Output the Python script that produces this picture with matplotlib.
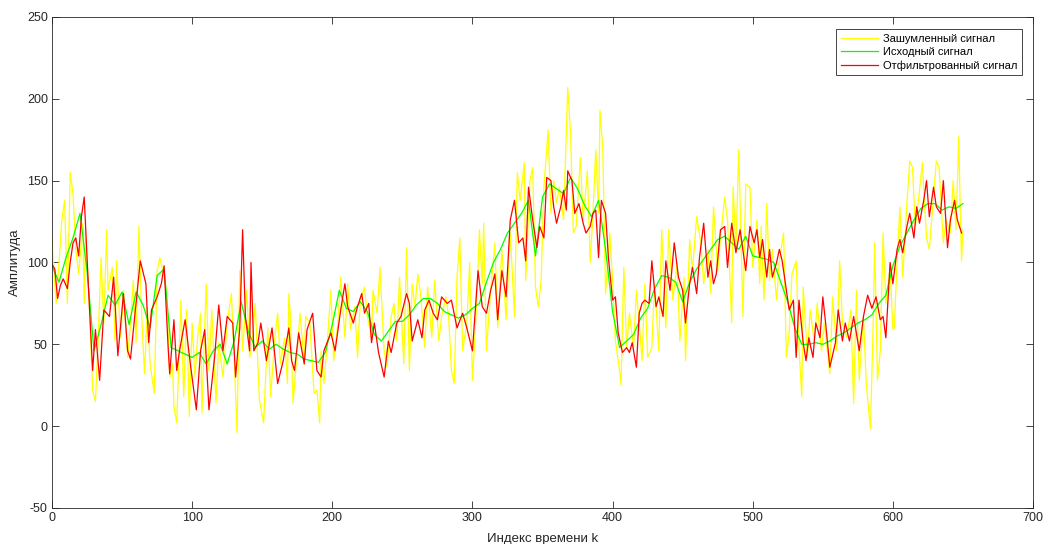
import numpy as np
import matplotlib
matplotlib.use("Agg")
import matplotlib.pyplot as plt
import matplotlib.ticker as ticker

plt.rcParams["font.family"] = ["Liberation Sans", "DejaVu Sans"]
plt.rcParams["axes.unicode_minus"] = False

#  исходный сигнал (отсчёты через 5)
clean_k = list(range(0, 651, 5))
clean_v = [98, 88, 103, 115, 130, 95, 46, 62, 80, 74,
           82, 62, 82, 74, 60, 92, 96, 48, 46, 44,
           42, 45, 38, 46, 50, 38, 52, 76, 58, 48,
           52, 47, 50, 47, 45, 44, 41, 40, 39, 45,
           62, 83, 72, 70, 76, 70, 56, 52, 58, 64,
           64, 68, 74, 78, 78, 75, 70, 68, 66, 68,
           72, 75, 88, 100, 108, 118, 124, 130, 138, 104,
           140, 148, 145, 142, 152, 145, 135, 128, 138, 108,
           70, 48, 52, 56, 66, 72, 84, 92, 91, 88,
           76, 88, 96, 102, 108, 114, 116, 112, 108, 116,
           104, 103, 102, 100, 88, 76, 60, 50, 50, 51,
           50, 52, 55, 57, 60, 63, 65, 68, 75, 80,
           98, 110, 118, 126, 133, 136, 136, 132, 134, 133, 136]

#  отфильтрованный сигнал
filt_k = [0, 2, 4, 6, 8, 11, 13, 15, 17, 19, 21, 23, 26, 29, 31, 34, 37, 41, 44, 47,
          51, 54, 56, 59, 63, 67, 69, 71, 75, 78, 80, 83, 84, 87, 89, 91, 95, 99, 103, 106,
          109, 112, 116, 119, 122, 125, 129, 131, 134, 136, 138, 141, 142, 144, 147, 149, 153, 157, 161, 165,
          169, 171, 173, 176, 180, 182, 186, 189, 192, 194, 199, 202, 206, 209, 211, 215, 218, 221, 223, 226,
          228, 230, 233, 237, 240, 242, 246, 249, 253, 255, 257, 261, 264, 266, 269, 272, 275, 278, 282, 285,
          289, 293, 296, 300, 304, 307, 310, 313, 316, 318, 321, 324, 327, 330, 333, 336, 338, 340, 343, 346,
          348, 351, 353, 356, 358, 360, 363, 365, 367, 368, 371, 373, 376, 379, 381, 384, 386, 388, 390, 392,
          395, 397, 400, 402, 404, 407, 410, 412, 414, 417, 419, 421, 423, 426, 428, 431, 433, 436, 438, 441,
          444, 447, 450, 452, 455, 457, 460, 462, 465, 468, 470, 472, 474, 477, 480, 482, 485, 488, 491, 495,
          498, 501, 503, 505, 507, 510, 512, 514, 517, 519, 521, 524, 526, 529, 531, 533, 536, 538, 540, 543,
          545, 548, 550, 552, 555, 559, 561, 564, 566, 569, 572, 576, 579, 582, 585, 588, 591, 593, 595, 598,
          600, 603, 605, 607, 610, 612, 615, 617, 619, 622, 624, 626, 629, 631, 634, 636, 639, 641, 644, 646, 649]
filt_v = [99, 96, 78, 86, 90, 84, 100, 112, 115, 104, 128, 140, 85, 34, 59, 28, 71, 67, 91, 43,
          81, 46, 41, 67, 101, 87, 51, 71, 79, 87, 98, 46, 32, 65, 34, 46, 65, 36, 10, 46,
          59, 10, 42, 74, 46, 67, 63, 30, 60, 120, 67, 46, 100, 46, 51, 63, 40, 60, 26, 40,
          60, 40, 34, 57, 38, 59, 69, 34, 30, 46, 57, 46, 71, 87, 73, 63, 73, 81, 69, 75,
          51, 63, 45, 30, 52, 45, 63, 67, 81, 75, 52, 65, 54, 71, 77, 69, 65, 79, 75, 77,
          60, 69, 60, 46, 95, 73, 69, 83, 93, 65, 95, 79, 126, 138, 112, 115, 101, 146, 126, 109,
          122, 115, 152, 150, 134, 124, 134, 144, 132, 156, 150, 130, 136, 124, 118, 122, 130, 132, 103, 138,
          130, 103, 77, 79, 57, 45, 48, 45, 51, 36, 69, 75, 77, 75, 101, 73, 79, 67, 101, 83,
          112, 91, 83, 63, 87, 97, 81, 103, 124, 91, 101, 87, 93, 120, 122, 97, 124, 106, 120, 95,
          122, 112, 120, 103, 114, 91, 108, 91, 100, 108, 101, 83, 71, 77, 42, 77, 51, 40, 54, 42,
          63, 54, 79, 63, 36, 51, 71, 52, 63, 52, 67, 46, 67, 80, 72, 79, 65, 67, 54, 100,
          87, 108, 114, 106, 122, 130, 115, 134, 124, 138, 150, 128, 146, 134, 130, 150, 109, 126, 138, 126, 118]

#  зашумленный сигнал
noisy_k = [0, 3, 5, 7, 9, 11, 13, 15, 17, 19, 22, 23, 24, 27, 29, 31, 33, 35, 37, 39,
           40, 43, 45, 46, 49, 51, 54, 56, 58, 60, 62, 64, 66, 68, 70, 73, 75, 77, 80, 82,
           84, 86, 87, 89, 92, 94, 96, 98, 100, 102, 104, 106, 107, 110, 112, 114, 117, 119, 122, 125,
           128, 130, 132, 134, 136, 139, 141, 143, 145, 148, 151, 154, 156, 159, 161, 163, 166, 168, 169, 170,
           172, 175, 177, 180, 181, 184, 187, 189, 191, 192, 194, 196, 199, 201, 204, 206, 209, 211, 213, 216,
           218, 220, 223, 225, 228, 229, 232, 234, 237, 239, 242, 244, 246, 248, 251, 253, 255, 257, 259, 261,
           263, 266, 268, 271, 273, 276, 278, 281, 283, 285, 287, 289, 291, 293, 296, 298, 300, 303, 305, 307,
           308, 310, 313, 316, 318, 321, 324, 327, 330, 332, 334, 337, 338, 341, 343, 345, 347, 349, 351, 354,
           356, 358, 360, 362, 365, 368, 370, 372, 374, 377, 379, 382, 384, 386, 388, 390, 391, 393, 395, 398,
           400, 402, 405, 406, 408, 410, 412, 415, 417, 420, 421, 423, 425, 428, 430, 433, 435, 438, 440, 443,
           446, 448, 451, 452, 455, 457, 460, 463, 465, 468, 470, 472, 475, 477, 480, 482, 485, 486, 488, 490,
           493, 495, 498, 500, 503, 505, 506, 508, 510, 512, 514, 517, 519, 522, 524, 526, 528, 531, 533, 535,
           536, 539, 541, 544, 546, 549, 551, 555, 557, 560, 562, 564, 567, 570, 572, 574, 576, 579, 581, 584,
           586, 587, 589, 591, 593, 595, 598, 600, 601, 603, 605, 607, 610, 612, 614, 616, 619, 621, 624, 626,
           629, 631, 633, 636, 638, 641, 643, 645, 647, 648, 649, 650]
noisy_v = [112, 75, 100, 126, 138, 75, 155, 142, 108, 93, 124, 75, 118, 67, 22, 15, 54, 103, 63, 120,
           83, 97, 52, 101, 54, 83, 42, 63, 89, 51, 122, 67, 32, 73, 38, 20, 95, 103, 91, 81,
           30, 38, 12, 2, 77, 18, 71, 6, 63, 30, 55, 69, 8, 87, 34, 71, 14, 51, 30, 63,
           81, 42, -4, 95, 46, 83, 42, 52, 75, 16, 2, 60, 18, 54, 69, 38, 54, 26, 81, 69,
           14, 46, 69, 38, 67, 63, 20, 22, 2, 46, 26, 46, 83, 40, 63, 91, 54, 87, 59, 73,
           42, 77, 85, 67, 54, 83, 69, 97, 46, 36, 67, 75, 52, 91, 38, 109, 34, 87, 73, 93,
           81, 48, 85, 54, 89, 52, 67, 79, 67, 34, 26, 91, 115, 46, 63, 100, 28, 75, 120, 87,
           124, 46, 83, 112, 60, 108, 65, 118, 67, 155, 138, 161, 89, 150, 158, 85, 73, 89, 146, 181,
           130, 150, 136, 146, 126, 207, 179, 118, 122, 164, 126, 156, 100, 130, 169, 130, 193, 170, 81, 118,
           89, 52, 34, 25, 97, 48, 69, 48, 83, 52, 40, 87, 42, 48, 87, 46, 120, 60, 120, 77,
           100, 52, 91, 40, 114, 95, 128, 112, 87, 108, 81, 134, 95, 115, 140, 126, 63, 146, 108, 169,
           67, 148, 146, 97, 126, 87, 122, 77, 136, 89, 108, 77, 101, 118, 42, 57, 93, 101, 48, 18,
           85, 42, 71, 51, 75, 46, 63, 32, 79, 46, 101, 63, 54, 71, 14, 83, 28, 67, 26, -2,
           65, 112, 28, 46, 118, 75, 97, 59, 60, 101, 134, 91, 136, 162, 158, 122, 144, 161, 115, 108,
           140, 162, 158, 112, 126, 118, 150, 120, 177, 134, 101, 120]


def signal_pic():
    fig = plt.figure(figsize=(10.44, 5.44), dpi=100)
    ax = fig.add_axes([0.0498, 0.0662, 0.9397, 0.9026])
    line_w = 0.9

    ax.plot(noisy_k, noisy_v, color=(1, 1, 0), linewidth=line_w, label="Зашумленный сигнал")
    ax.plot(clean_k, clean_v, color=(0, 1, 0), linewidth=line_w, label="Исходный сигнал")
    ax.plot(filt_k, filt_v, color=(1, 0, 0), linewidth=line_w, label="Отфильтрованный сигнал")

    #  оформление в стиле MATLAB
    ax.set_xlim(0, 700)
    ax.set_ylim(-50, 250)
    ax.xaxis.set_major_locator(ticker.MultipleLocator(100))
    ax.yaxis.set_major_locator(ticker.MultipleLocator(50))
    ax.tick_params(direction="in", top=True, right=True, length=5, width=0.6,
                   color="#262626", labelsize=9, labelcolor="#262626", pad=3)
    for sp in ax.spines.values():
        sp.set_color("#262626")
        sp.set_linewidth(0.6)

    ax.set_xlabel("Индекс времени k", fontsize=9.5, color="#262626")
    ax.set_ylabel("Амплитуда", fontsize=9.5, color="#262626")
    ax.xaxis.set_label_coords(0.5, -0.05)
    ax.yaxis.set_label_coords(-0.032, 0.5)

    leg = ax.legend(loc="upper right", bbox_to_anchor=(0.989, 0.975), borderaxespad=0,
                    prop={"size": 8}, fancybox=False, framealpha=1, edgecolor="#262626",
                    handlelength=3.4, labelspacing=0.3, borderpad=0.4, handletextpad=0.45)
    leg.get_frame().set_linewidth(0.6)

    fig.savefig("out.png", dpi=100)


if __name__ == '__main__':
    signal_pic()
